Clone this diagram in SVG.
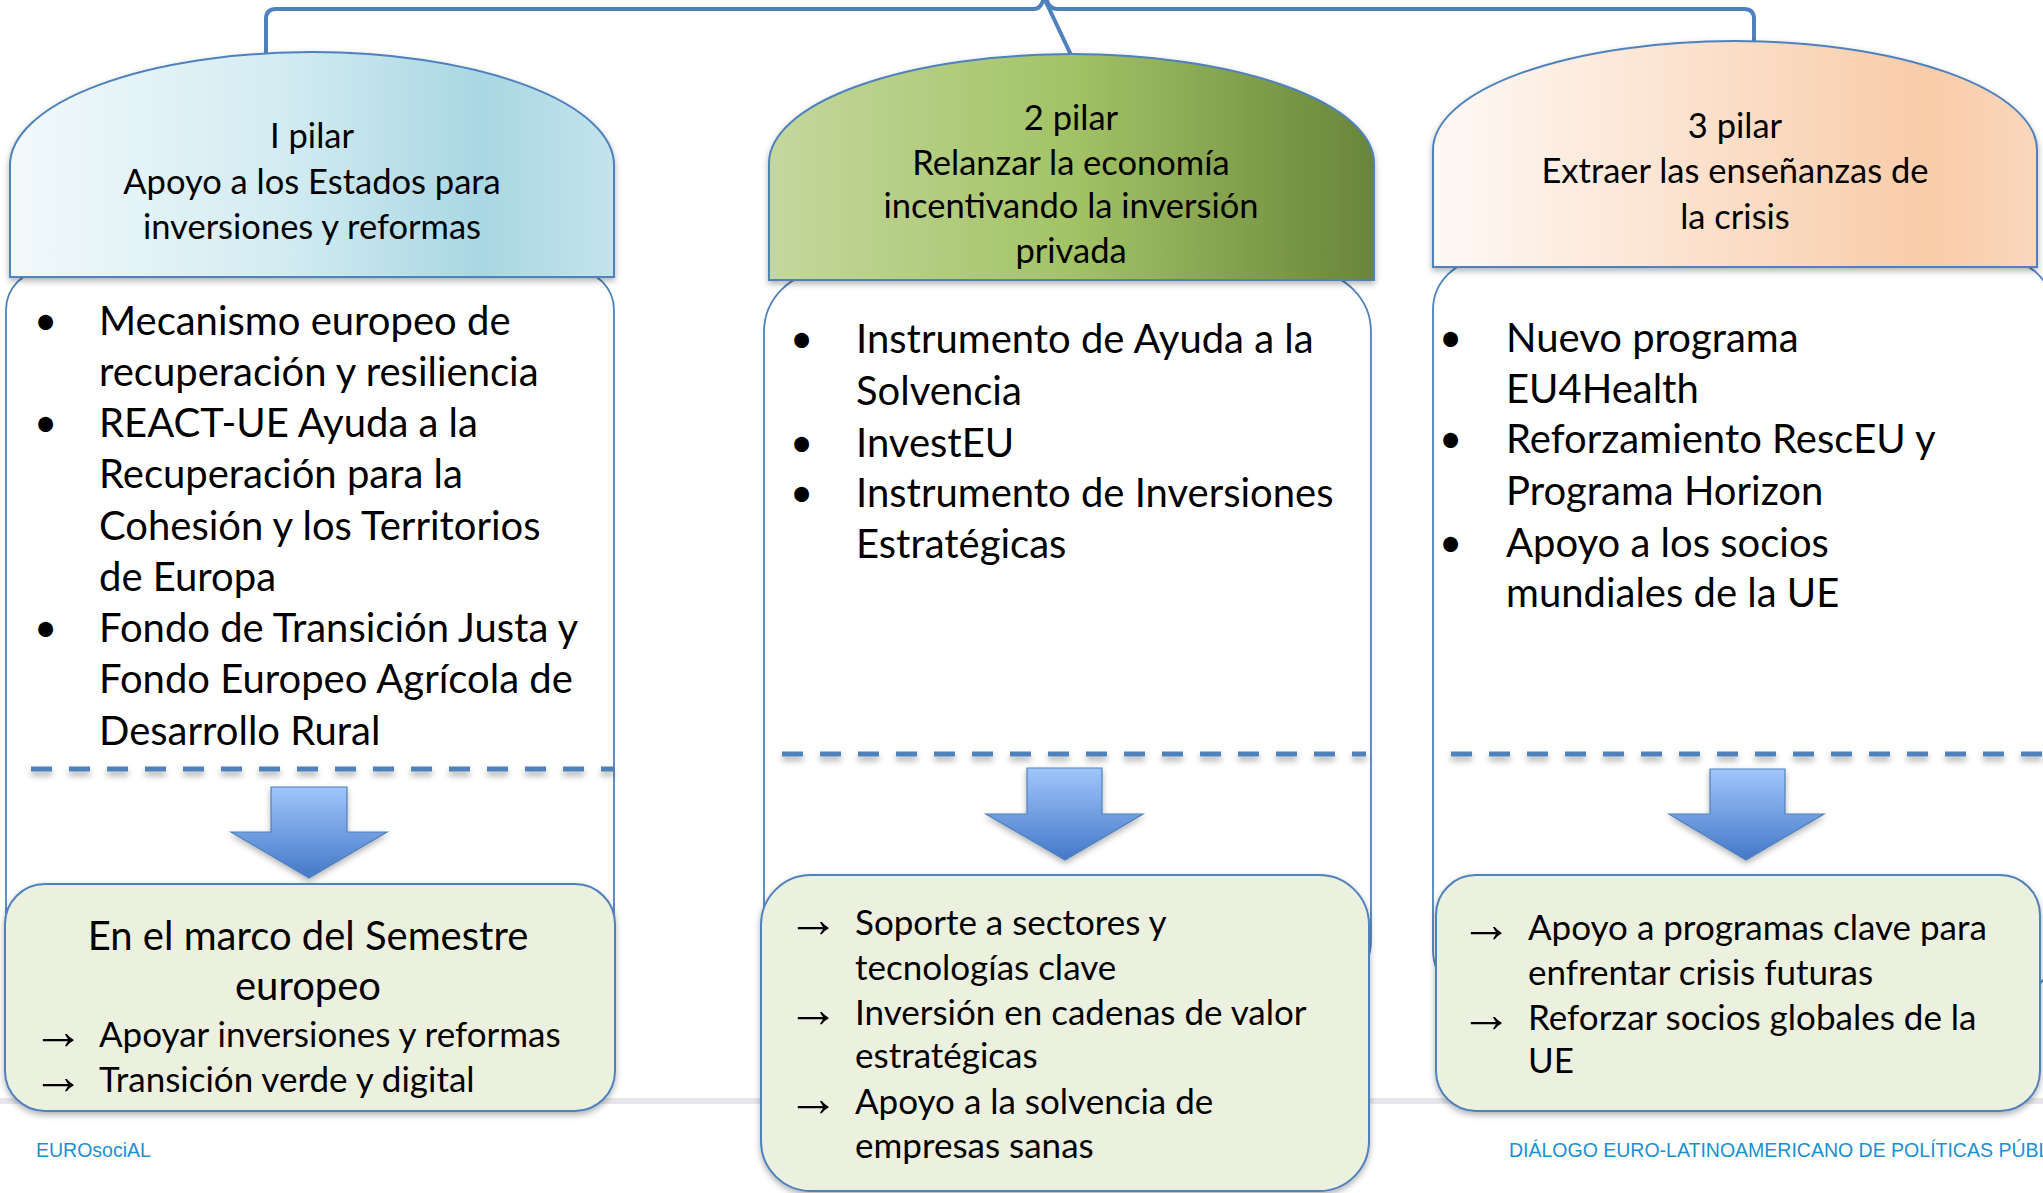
<svg xmlns="http://www.w3.org/2000/svg" width="2043" height="1193" viewBox="0 0 2043 1193">
<defs>
<linearGradient id="g1" x1="0" y1="0" x2="1" y2="0">
<stop offset="0" stop-color="#F2F9FB"/><stop offset="0.45" stop-color="#D3ECF2"/><stop offset="0.78" stop-color="#A9D7E3"/><stop offset="1" stop-color="#C3E4EC"/>
</linearGradient>
<linearGradient id="g2" x1="0" y1="0" x2="1" y2="0">
<stop offset="0" stop-color="#C4D89E"/><stop offset="0.5" stop-color="#A3C366"/><stop offset="1" stop-color="#69853A"/>
</linearGradient>
<linearGradient id="g3" x1="0" y1="0" x2="1" y2="0">
<stop offset="0" stop-color="#FEF9F5"/><stop offset="0.4" stop-color="#FCE3D0"/><stop offset="0.82" stop-color="#F9CCA8"/><stop offset="1" stop-color="#FAD7BD"/>
</linearGradient>
<linearGradient id="ga" x1="0" y1="0" x2="0" y2="1">
<stop offset="0" stop-color="#A0C6FB"/><stop offset="1" stop-color="#4478C8"/>
</linearGradient>
<filter id="sh" x="-10%" y="-10%" width="120%" height="130%">
<feDropShadow dx="0" dy="3" stdDeviation="3" flood-color="#000" flood-opacity="0.3"/>
</filter>
<filter id="shd" filterUnits="userSpaceOnUse" x="0" y="700" width="2043" height="120">
<feDropShadow dx="0" dy="4" stdDeviation="3" flood-color="#000" flood-opacity="0.35"/>
</filter>
</defs>
<style>
.hdr{stroke:#4F81BD;stroke-width:2}
.body{fill:#FFFFFF;stroke:#4F81BD;stroke-width:1.8}
.box{fill:#EBF1DE;stroke:#4F81BD;stroke-width:2}
.dash{stroke:#4F81BD;stroke-width:5;stroke-dasharray:21 17;fill:none}
.arr{fill:url(#ga);stroke:#4F81BD;stroke-width:1.2}
.conn{stroke:#4F81BD;stroke-width:4;fill:none;stroke-linecap:round;stroke-linejoin:round}
text{font-family:Lato,"Liberation Sans",sans-serif;fill:#000}
.ht{font-size:34.5px;text-anchor:middle}
.bt{font-size:40px}
.gt{font-size:35px}
.tt{font-size:40px;text-anchor:middle}
.ar{font-family:"Liberation Serif","DejaVu Serif",serif;font-size:52px}
.ft{font-family:"Liberation Sans",sans-serif;font-size:19.5px;fill:#1B8FD3}
</style>
<rect x="0" y="0" width="2043" height="1193" fill="#FFFFFF"/>
<rect x="0" y="1098" width="2043" height="6" fill="#E5E5EB"/>

<g id="connectors">
<path class="conn" d="M266,57 L266,19 Q266,9 276,9 L1034,9 Q1040,9 1043,1"/>
<path class="conn" d="M1045,0 L1071,55"/>
<path class="conn" d="M1047,1 Q1050,9 1057,9 L1744,9 Q1754,9 1754,19 L1754,42"/>
</g>

<g id="pilar1">
<rect class="body" x="6" y="270" width="608" height="780" rx="40"/>
<path class="hdr" filter="url(#sh)" fill="url(#g1)" d="M10,277 L10,165 A302,113 0 0 1 614,165 L614,277 Z"/>
<text class="ht" x="312" y="148">I pilar</text>
<text class="ht" x="312" y="194">Apoyo a los Estados para</text>
<text class="ht" x="312" y="239">inversiones y reformas</text>
<text class="bt" x="34" y="335">•</text>
<text class="bt" x="99" y="335">Mecanismo europeo de</text>
<text class="bt" x="99" y="386">recuperación y resiliencia</text>
<text class="bt" x="34" y="437">•</text>
<text class="bt" x="99" y="437">REACT-UE  Ayuda a la</text>
<text class="bt" x="99" y="488">Recuperación para la</text>
<text class="bt" x="99" y="540">Cohesión y los Territorios</text>
<text class="bt" x="99" y="591">de Europa</text>
<text class="bt" x="34" y="642">•</text>
<text class="bt" x="99" y="642">Fondo de Transición Justa y</text>
<text class="bt" x="99" y="693">Fondo Europeo Agrícola de</text>
<text class="bt" x="99" y="745">Desarrollo Rural</text>
<line class="dash" filter="url(#shd)" x1="31" y1="769" x2="614" y2="769"/>
<path class="arr" filter="url(#sh)" d="M271,787 L347,787 L347,832 L387,832 L309,878 L231,832 L271,832 Z"/>
<rect class="box" filter="url(#sh)" x="5" y="884" width="610" height="227" rx="40"/>
<text class="tt" x="308" y="950">En el marco del Semestre</text>
<text class="tt" x="308" y="1000">europeo</text>
<text class="ar" x="32" y="1049">→</text>
<text class="gt" x="99" y="1047">Apoyar inversiones y reformas</text>
<text class="ar" x="32" y="1094">→</text>
<text class="gt" x="99" y="1092">Transición verde y digital</text>
</g>

<g id="pilar2">
<rect class="body" x="764" y="272" width="607" height="728" rx="60"/>
<path class="hdr" filter="url(#sh)" fill="url(#g2)" d="M769,280 L769,163 A302.5,109 0 0 1 1374,163 L1374,280 Z"/>
<text class="ht" x="1071" y="130">2 pilar</text>
<text class="ht" x="1071" y="175">Relanzar la economía</text>
<text class="ht" x="1071" y="218">incentivando la inversión</text>
<text class="ht" x="1071" y="263">privada</text>
<text class="bt" x="790" y="353">•</text>
<text class="bt" x="856" y="353">Instrumento de Ayuda a la</text>
<text class="bt" x="856" y="405">Solvencia</text>
<text class="bt" x="790" y="457">•</text>
<text class="bt" x="856" y="457">InvestEU</text>
<text class="bt" x="790" y="507">•</text>
<text class="bt" x="856" y="507">Instrumento de Inversiones</text>
<text class="bt" x="856" y="558">Estratégicas</text>
<line class="dash" filter="url(#shd)" x1="782" y1="754" x2="1366" y2="754"/>
<path class="arr" filter="url(#sh)" d="M1027,768 L1102,768 L1102,814 L1143,814 L1065,860 L986,814 L1027,814 Z"/>
<rect class="box" filter="url(#sh)" x="761" y="875" width="608" height="316" rx="50"/>
<text class="ar" x="787" y="937">→</text>
<text class="gt" x="855" y="935">Soporte a sectores y</text>
<text class="gt" x="855" y="980">tecnologías clave</text>
<text class="ar" x="787" y="1027">→</text>
<text class="gt" x="855" y="1025">Inversión en cadenas de valor</text>
<text class="gt" x="855" y="1068">estratégicas</text>
<text class="ar" x="787" y="1116">→</text>
<text class="gt" x="855" y="1114">Apoyo a la solvencia de</text>
<text class="gt" x="855" y="1158">empresas sanas</text>
</g>

<g id="pilar3">
<rect class="body" x="1433" y="260" width="620" height="740" rx="50"/>
<path class="hdr" filter="url(#sh)" fill="url(#g3)" d="M1433,267 L1433,150 A302,109 0 0 1 2037,150 L2037,267 Z"/>
<text class="ht" x="1735" y="138">3 pilar</text>
<text class="ht" x="1735" y="183">Extraer las enseñanzas de</text>
<text class="ht" x="1735" y="229">la crisis</text>
<text class="bt" x="1439" y="352">•</text>
<text class="bt" x="1506" y="352">Nuevo programa</text>
<text class="bt" x="1506" y="403">EU4Health</text>
<text class="bt" x="1439" y="453">•</text>
<text class="bt" x="1506" y="453">Reforzamiento RescEU y</text>
<text class="bt" x="1506" y="505">Programa Horizon</text>
<text class="bt" x="1439" y="557">•</text>
<text class="bt" x="1506" y="557">Apoyo a los socios</text>
<text class="bt" x="1506" y="607">mundiales de la UE</text>
<line class="dash" filter="url(#shd)" x1="1451" y1="754" x2="2043" y2="754"/>
<path class="arr" filter="url(#sh)" d="M1710,769 L1785,769 L1785,814 L1824,814 L1746,860 L1669,814 L1710,814 Z"/>
<rect class="box" filter="url(#sh)" x="1436" y="875" width="604" height="236" rx="40"/>
<text class="ar" x="1460" y="942">→</text>
<text class="gt" x="1528" y="940">Apoyo a programas clave para</text>
<text class="gt" x="1528" y="985">enfrentar crisis futuras</text>
<text class="ar" x="1460" y="1032">→</text>
<text class="gt" x="1528" y="1030">Reforzar socios globales de la</text>
<text class="gt" x="1528" y="1073">UE</text>
</g>

<g id="footer">
<text class="ft" x="36" y="1157">EUROsociAL</text>
<text class="ft" x="1509" y="1157">DIÁLOGO EURO-LATINOAMERICANO DE POLÍTICAS PÚBLICAS</text>
</g>
</svg>
